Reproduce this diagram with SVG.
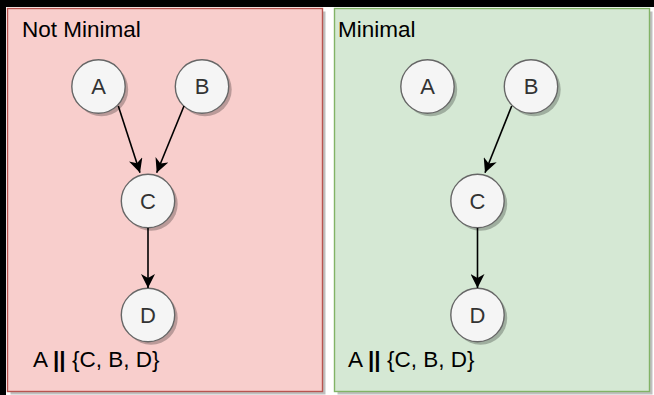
<svg xmlns="http://www.w3.org/2000/svg" width="654" height="395" viewBox="0 0 654 395">
<style>
.t{font-family:"Liberation Sans",Arial,sans-serif;font-size:22.5px;fill:#000}
.nl{font-family:"Liberation Sans",Arial,sans-serif;font-size:22px;fill:#333;text-anchor:middle;dominant-baseline:central}
.node{fill:#f5f5f5;stroke:#666;stroke-width:1.4}
.sh{fill:#000;opacity:0.25}
.edge{stroke:#000;stroke-width:1.6;fill:none}
</style>
<defs>
<marker id="arr" markerUnits="userSpaceOnUse" markerWidth="16" markerHeight="14" viewBox="0 0 16 14" refX="14" refY="7" orient="auto">
<path d="M0,0 L14,7 L0,14 L4,7 Z" fill="#000"/>
</marker>
</defs>
<rect width="654" height="395" fill="#fff"/>
<rect x="0" y="0" width="654" height="7" fill="#000"/>
<rect x="0" y="0" width="6" height="395" fill="#000"/>
<g id="panel-not-minimal">
<rect class="sh" x="10.5" y="11.5" width="315" height="383"/>
<rect x="7.5" y="8.5" width="315" height="383" fill="#f8cecc" stroke="#b85450" stroke-width="1.4"/>
<text class="t" x="22" y="37">Not Minimal</text>
<text class="t" x="33" y="367">A <tspan font-weight="bold">||</tspan> {C, B, D}</text>
</g>
<g id="panel-minimal">
<rect class="sh" x="337.5" y="11.5" width="315" height="383"/>
<rect x="334.5" y="8.5" width="315" height="383" fill="#d5e8d4" stroke="#82b366" stroke-width="1.4"/>
<text class="t" x="338" y="37">Minimal</text>
<text class="t" x="348" y="367">A <tspan font-weight="bold">||</tspan> {C, B, D}</text>
</g>
<g id="l-A"><circle class="sh" cx="101.5" cy="89.5" r="26.7"/><circle class="node" cx="98.5" cy="86.5" r="26.7"/><text class="nl" x="98.5" y="86.5">A</text></g>
<g id="l-B"><circle class="sh" cx="205" cy="89.5" r="26.7"/><circle class="node" cx="202" cy="86.5" r="26.7"/><text class="nl" x="202" y="86.5">B</text></g>
<g id="l-C"><circle class="sh" cx="151" cy="204" r="26.7"/><circle class="node" cx="148" cy="201" r="26.7"/><text class="nl" x="148" y="201">C</text></g>
<g id="l-D"><circle class="sh" cx="151" cy="318" r="26.7"/><circle class="node" cx="148" cy="315" r="26.7"/><text class="nl" x="148" y="315">D</text></g>
<g id="r-A"><circle class="sh" cx="430.5" cy="89.5" r="26.7"/><circle class="node" cx="427.5" cy="86.5" r="26.7"/><text class="nl" x="427.5" y="86.5">A</text></g>
<g id="r-B"><circle class="sh" cx="534" cy="89.5" r="26.7"/><circle class="node" cx="531" cy="86.5" r="26.7"/><text class="nl" x="531" y="86.5">B</text></g>
<g id="r-C"><circle class="sh" cx="480.5" cy="204" r="26.7"/><circle class="node" cx="477.5" cy="201" r="26.7"/><text class="nl" x="477.5" y="201">C</text></g>
<g id="r-D"><circle class="sh" cx="480.5" cy="318" r="26.7"/><circle class="node" cx="477.5" cy="315" r="26.7"/><text class="nl" x="477.5" y="315">D</text></g>
<g id="connectors">
<line class="edge" x1="118.3" y1="106" x2="140" y2="172.7" marker-end="url(#arr)"/>
<line class="edge" x1="184" y1="106" x2="156.7" y2="172.7" marker-end="url(#arr)"/>
<line class="edge" x1="148" y1="228" x2="148" y2="288" marker-end="url(#arr)"/>
<line class="edge" x1="511.7" y1="106" x2="485" y2="172.7" marker-end="url(#arr)"/>
<line class="edge" x1="477.5" y1="228" x2="477.5" y2="288" marker-end="url(#arr)"/>
</g>
</svg>
